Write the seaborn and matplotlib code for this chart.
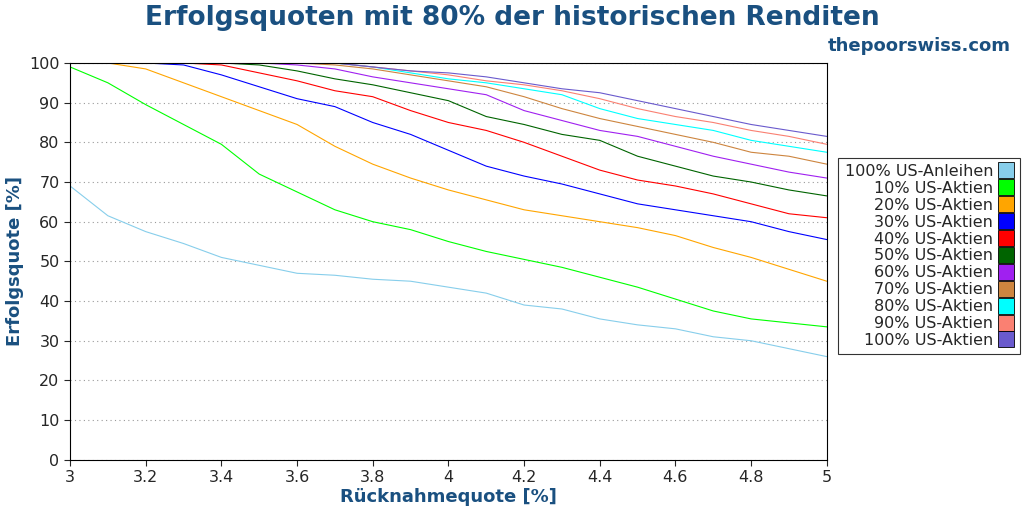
import matplotlib
matplotlib.use("Agg")
import matplotlib.pyplot as plt
import seaborn as sns
import pandas as pd
from matplotlib.lines import Line2D

x = [3.0,3.1,3.2,3.3,3.4,3.5,3.6,3.7,3.8,3.9,4.0,4.1,4.2,4.3,4.4,4.5,4.6,4.7,4.8,4.9,5.0]
labels = ["100% US-Anleihen","10% US-Aktien","20% US-Aktien","30% US-Aktien","40% US-Aktien","50% US-Aktien",
          "60% US-Aktien","70% US-Aktien","80% US-Aktien","90% US-Aktien","100% US-Aktien"]
colors = ["#87ceeb","#00ff00","#ffa500","#0000ff","#ff0000","#006400","#a020f0","#cd853f","#00ffff","#fa8072","#6a5acd"]
s0 = [69,61.5,57.5,54.5,51,49,47,46.5,45.5,45,43.5,42,39,38,35.5,34,33,31,30,28,26]
s10 = [99,95,89.5,84.5,79.5,72,67.5,63,60,58,55,52.5,50.5,48.5,46,43.5,40.5,37.5,35.5,34.5,33.5]
s20 = [100,100,98.5,95,91.5,88,84.5,79,74.5,71,68,65.5,63,61.5,60,58.5,56.5,53.5,51,48,45]
s30 = [100,100,100,99.5,97,94,91,89,85,82,78,74,71.5,69.5,67,64.5,63,61.5,60,57.5,55.5]
s40 = [100,100,100,100,99.5,97.5,95.5,93,91.5,88,85,83,80,76.5,73,70.5,69,67,64.5,62,61]
s50 = [100,100,100,100,100,99.5,98,96,94.5,92.5,90.5,86.5,84.5,82,80.5,76.5,74,71.5,70,68,66.5]
s60 = [100,100,100,100,100,100,99.5,98.5,96.5,95,93.5,92,88,85.5,83,81.5,79,76.5,74.5,72.5,71]
s70 = [100,100,100,100,100,100,100,99.5,98.5,97,95.5,94,91.5,88.5,86,84,82,80,77.5,76.5,74.5]
s80 = [100,100,100,100,100,100,100,100,99,97.5,96,95,93.5,92,88.5,86,84.5,83,80.5,79,77.5]
s90 = [100,100,100,100,100,100,100,100,99,98,97,95.5,94.5,93,91,88.5,86.5,85,83,81.5,79.5]
s100 = [100,100,100,100,100,100,100,100,99,98,97.5,96.5,95,93.5,92.5,90.5,88.5,86.5,84.5,83,81.5]
series = [s0,s10,s20,s30,s40,s50,s60,s70,s80,s90,s100]

rows = []
for lab, s in zip(labels, series):
    for xi, yi in zip(x, s):
        rows.append({"x": xi, "y": yi, "s": lab})
df = pd.DataFrame(rows)

sns.set_style("white")
plt.rcParams['font.family'] = ['DejaVu Sans']
fig = plt.figure(figsize=(10.24, 5.12), dpi=100)
ax = fig.add_axes([0.0684, 0.102, 0.739, 0.775])
sns.lineplot(data=df, x="x", y="y", hue="s", palette=dict(zip(labels, colors)), linewidth=0.8, ax=ax, legend=False)
ax.set_xlim(3, 5)
ax.set_ylim(0, 100)
ax.set_xticks([3,3.2,3.4,3.6,3.8,4,4.2,4.4,4.6,4.8,5])
ax.set_xticklabels(["3","3.2","3.4","3.6","3.8","4","4.2","4.4","4.6","4.8","5"])
ax.set_yticks(range(0, 101, 10))
ax.tick_params(labelsize=11.5, length=4, direction="out", left=True, bottom=True)
ax.yaxis.grid(True, linestyle=(0,(1,3)), color="#999999", linewidth=0.8)
for sp in ax.spines.values():
    sp.set_color("black"); sp.set_linewidth(0.8)
tc = "#1a5080"
ax.set_xlabel("Rücknahmequote [%]", fontsize=13, fontweight="bold", color=tc, labelpad=2)
ax.set_ylabel("Erfolgsquote [%]", fontsize=13, fontweight="bold", color=tc)
fig.text(0.5, 0.965, "Erfolgsquoten mit 80% der historischen Renditen", ha="center", va="center",
         fontsize=19, fontweight="bold", color=tc)
fig.text(0.987, 0.91, "thepoorswiss.com", ha="right", va="center", fontsize=13, fontweight="bold", color=tc)
handles = [Line2D([], [], marker="s", linestyle="none", markersize=11, markerfacecolor=c,
                  markeredgecolor="black", markeredgewidth=0.6) for c in colors]
leg = fig.legend(handles, labels, loc="center left", bbox_to_anchor=(0.811, 0.5), markerfirst=False,
                 fontsize=11.5, frameon=True, fancybox=False, edgecolor="black", handletextpad=0.3,
                 labelspacing=0.12, borderpad=0.4, handlelength=1.0)
leg.get_frame().set_linewidth(0.8)
fig.savefig("out.png", dpi=100)
